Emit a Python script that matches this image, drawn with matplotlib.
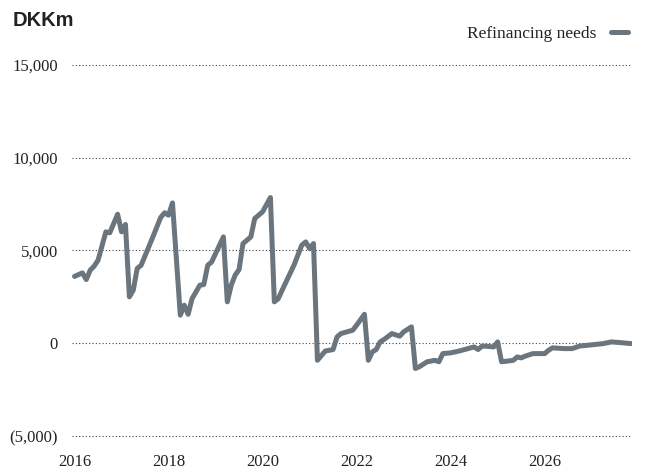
import matplotlib
matplotlib.use("Agg")
import matplotlib.pyplot as plt
import numpy as np

# Refinancing needs, DKK million; months counted from January 2016
months = [0, 2, 3, 4, 5, 6, 8, 9, 11, 12, 13, 14, 15, 16, 17, 20, 22, 23, 24, 25,
          27, 28, 29, 30, 32, 33, 34, 35, 38, 39, 40, 41, 42, 43, 45, 46, 48, 50, 51, 52,
          53, 56, 58, 59, 60, 61, 62, 64, 66, 67, 68, 71, 72, 74, 75, 76, 77, 78, 79, 81,
          83, 84, 86, 87, 88, 90, 92, 93, 94, 96, 98, 102, 103, 104, 105, 107, 108, 109, 111, 112,
          113, 114, 115, 117, 118, 120, 121, 122, 125, 127, 129, 131, 135, 137, 139, 142]
refinancing = [3600, 3790, 3430, 3935, 4150, 4470, 6000, 5950, 6950, 6000, 6400, 2500, 2860, 4030, 4200, 5730, 6780, 7030, 6900, 7560,
               1510, 2050, 1560, 2400, 3130, 3160, 4200, 4380, 5730, 2230, 3130, 3670, 3970, 5370, 5730, 6720, 7080, 7850, 2230, 2400,
               2860, 4200, 5280, 5460, 5100, 5370, -920, -420, -340, 340, 520, 700, 970, 1560, -920, -470, -340, 70, 200, 520,
               380, 610, 880, -1360, -1270, -1000, -920, -1000, -560, -520, -430, -200, -340, -160, -160, -200, 70, -1000, -950, -920,
               -740, -790, -700, -560, -560, -560, -380, -250, -290, -290, -150, -110, -20, 70, 40, -20]

year_ticks = [2016, 2018, 2020, 2022, 2024, 2026]
value_ticks = [-5000, 0, 5000, 10000, 15000]
value_labels = ["(5,000)", "0", "5,000", "10,000", "15,000"]
series_name = "Refinancing needs"
unit_label = "DKKm"

line_color = "#6b757e"
serif = ["Liberation Serif", "DejaVu Serif"]

fig = plt.figure(figsize=(6.46, 4.71), dpi=100)
ax = fig.add_axes([0.111, 0.0743, 0.867, 0.788])

t = 2016 + np.array(months) / 12.0
ax.plot(t, refinancing, color=line_color, lw=3.6, solid_joinstyle="round",
        solid_capstyle="round", label=series_name, zorder=3)

ax.set_ylim(-5000, 15000)
ax.set_xlim(2016 - 0.06, 2016 + 142 / 12 + 0.02)
ax.set_yticks(value_ticks)
ax.set_yticklabels(value_labels)
ax.set_xticks(year_ticks)
ax.set_xticklabels([str(y) for y in year_ticks])

for s in ax.spines.values():
    s.set_visible(False)
ax.tick_params(axis="both", length=0, labelsize=12, colors="#222222")
ax.tick_params(axis="y", pad=10)
ax.tick_params(axis="x", pad=13)
for lab in ax.get_xticklabels() + ax.get_yticklabels():
    lab.set_family(serif)

# dotted horizontal guides, drawn unclipped so the bottom one stays visible
for v in value_ticks:
    ax.axhline(v, linestyle=(0, (1, 2)), color="#444444", lw=0.8, zorder=1, clip_on=False)

fig.text(0.019, 0.957, unit_label, fontsize=14.5, fontweight="bold",
         family=["Liberation Sans", "DejaVu Sans"], color="#222222", va="center")

leg = ax.legend(loc="center right", bbox_to_anchor=(0.983, 0.928),
                bbox_transform=fig.transFigure, frameon=False, markerfirst=False,
                handlelength=1.0, handletextpad=0.8, borderaxespad=0,
                prop={"family": serif, "size": 12.5})
for txt in leg.get_texts():
    txt.set_color("#222222")

fig.savefig("out.png", dpi=100)
